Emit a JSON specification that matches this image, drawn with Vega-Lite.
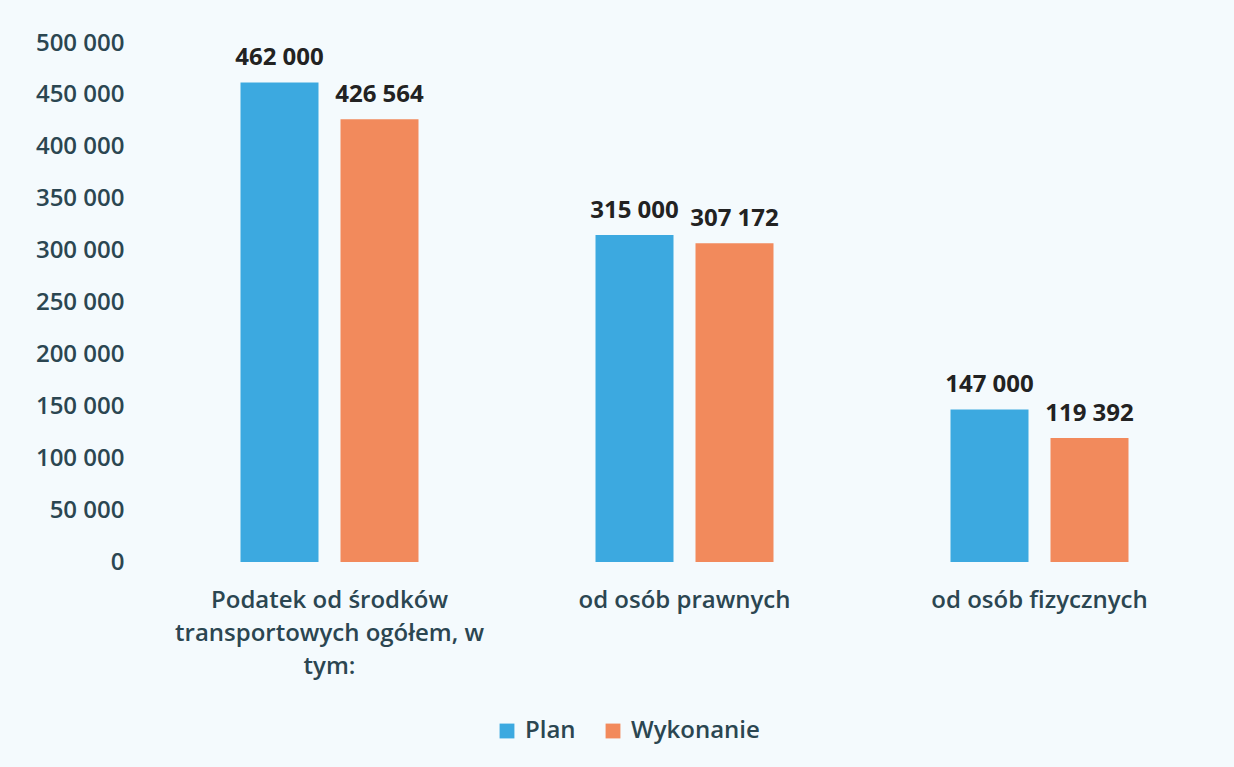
{
  "$schema": "https://vega.github.io/schema/vega-lite/v6.json",
  "width": 1065,
  "height": 519,
  "autosize": {"type": "none"},
  "padding": {"left": 152, "top": 43, "right": 17, "bottom": 205},
  "background": "#f4fafd",
  "config": {
    "locale": {"number": {"decimal": ",", "thousands": " ", "grouping": [3], "currency": ["", " zł"]}},
    "view": {"stroke": null},
    "font": "Open Sans"
  },
  "data": {
    "values": [
      {"kategoria": "Podatek od środków transportowych ogółem, w tym:", "seria": "Plan", "wartosc": 462000},
      {"kategoria": "Podatek od środków transportowych ogółem, w tym:", "seria": "Wykonanie", "wartosc": 426564},
      {"kategoria": "od osób prawnych", "seria": "Plan", "wartosc": 315000},
      {"kategoria": "od osób prawnych", "seria": "Wykonanie", "wartosc": 307172},
      {"kategoria": "od osób fizycznych", "seria": "Plan", "wartosc": 147000},
      {"kategoria": "od osób fizycznych", "seria": "Wykonanie", "wartosc": 119392}
    ]
  },
  "encoding": {
    "x": {
      "field": "kategoria",
      "type": "nominal",
      "sort": null,
      "scale": {"paddingInner": 0.4986, "paddingOuter": 0.2493},
      "axis": {
        "title": null,
        "labelAngle": 0,
        "domain": false,
        "ticks": false,
        "labelPadding": 26,
        "labelBaseline": "top",
        "labelLineHeight": 33,
        "labelFontSize": 24,
        "labelFontWeight": 600,
        "labelColor": "#2b4651",
        "labelLimit": 0,
        "labelExpr": "datum.value == 'Podatek od środków transportowych ogółem, w tym:' ? ['Podatek od środków', 'transportowych ogółem, w', 'tym:'] : datum.value"
      }
    },
    "xOffset": {
      "field": "seria",
      "sort": ["Plan", "Wykonanie"],
      "scale": {"paddingInner": 0.22, "paddingOuter": 0}
    },
    "y": {
      "field": "wartosc",
      "type": "quantitative",
      "scale": {"domain": [0, 500000]},
      "axis": {
        "title": null,
        "values": [0, 50000, 100000, 150000, 200000, 250000, 300000, 350000, 400000, 450000, 500000],
        "format": ",d",
        "grid": false,
        "domain": false,
        "ticks": false,
        "labelPadding": 28,
        "labelFontSize": 24,
        "labelFontWeight": 600,
        "labelColor": "#2b4651"
      }
    }
  },
  "layer": [
    {
      "mark": {"type": "bar"},
      "encoding": {
        "color": {
          "field": "seria",
          "type": "nominal",
          "scale": {"domain": ["Plan", "Wykonanie"], "range": ["#3ca9e0", "#f28a5c"]},
          "legend": {
            "orient": "none",
            "legendX": 343,
            "legendY": 676,
            "direction": "horizontal",
            "title": null,
            "symbolType": "square",
            "symbolSize": 220,
            "symbolStrokeWidth": 0,
            "labelFontSize": 24,
            "labelFontWeight": 600,
            "labelColor": "#2b4651",
            "columnPadding": 25,
            "labelOffset": 6
          }
        }
      }
    },
    {
      "mark": {"type": "text", "baseline": "bottom", "dy": -12, "fontWeight": "bold", "fontSize": 24, "color": "#222222"},
      "encoding": {
        "text": {"field": "wartosc", "type": "quantitative", "format": ",d"}
      }
    }
  ]
}
